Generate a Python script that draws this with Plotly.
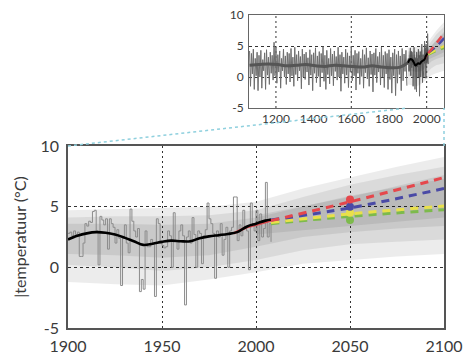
import plotly.graph_objects as go

# ---------------- data ----------------
years = list(range(1900, 2009))
annual_temp = [
    2.8, 2.9, 2.6, 3.0, 2.7, 2.9, 0.9, 0.9, 2.0, 3.6,
    3.4, 3.8, 3.7, 4.6, 4.7, 3.0, 0.2, 4.2, 3.9, 3.5,
    4.0, 1.5, 4.0, 3.6, 3.3, 2.0, 3.1, 2.4, -1.5, 2.4,
    3.5, 2.0, 1.2, 4.8, 3.8, 3.0, 2.5, 3.2, -2.0, -1.0,
    -1.8, 3.0, 1.7, 1.7, 2.3, 1.9, -2.4, 4.0, 3.6, 2.0,
    1.8, 1.6, 1.7, 3.0, 2.6, 0.0, 4.5, 2.2, 1.5, 3.0,
    3.5, 2.6, -3.1, 2.5, 3.0, 2.0, 4.1, 2.7, 0.0, 3.0,
    2.8, 0.3, 2.6, 3.1, 5.3, 4.0, 3.6, 2.8, -0.9, 3.0,
    2.5, 3.6, 1.0, 2.3, 3.3, 0.0, 3.0, 3.3, 5.8, 5.8,
    2.2, 3.5, 2.6, 4.7, 3.2, 3.0, -0.2, 5.3, 3.6, 3.0,
    4.7, 2.2, 4.4, 2.5, 3.2, 7.0, 2.5, 3.6, 2.1,
]

smooth_years = [1900, 1905, 1910, 1915, 1920, 1925, 1930, 1935, 1940, 1945, 1950, 1955,
                1960, 1965, 1970, 1975, 1980, 1985, 1990, 1995, 2000, 2005, 2008]
smooth_temp = [2.3, 2.6, 2.8, 2.9, 2.85, 2.7, 2.45, 2.15, 1.85, 1.95, 2.1, 2.2,
               2.15, 2.15, 2.4, 2.55, 2.65, 2.75, 2.9, 3.35, 3.6, 3.85, 3.95]

red_hist_years = [1988, 1995, 2000, 2008]
red_hist_temp = [2.8, 3.3, 3.5, 3.85]

scen_years = [2008, 2050, 2100]
scen_red = [3.85, 5.4, 7.4]
scen_blue = [3.9, 4.9, 6.5]
scen_yellow = [3.7, 4.4, 5.05]
scen_green = [3.6, 4.2, 4.75]

dot_year = [2050]
dot_red = [5.6]
dot_blue = [5.0]
dot_yellow = [4.5]
dot_green = [3.9]

band_years = [1900, 1925, 1950, 1975, 2000, 2025, 2050, 2075, 2100]
band1_upper = [4.7, 4.8, 4.9, 5.0, 5.4, 6.5, 7.4, 8.3, 9.1]
band1_lower = [-1.2, -1.4, -1.5, -1.0, -0.4, 0.3, 0.6, 0.9, 1.1]
band2_upper = [4.1, 4.2, 4.2, 4.3, 4.7, 5.8, 6.8, 7.6, 8.3]
band2_lower = [0.2, 0.0, -0.3, 0.0, 0.6, 1.4, 1.9, 2.1, 2.3]
band3_upper = [3.6, 3.6, 3.5, 3.6, 4.1, 5.0, 5.9, 6.6, 7.3]
band3_lower = [1.1, 1.0, 0.8, 1.0, 1.7, 2.5, 2.9, 3.2, 3.4]
band4_years = [2000, 2050, 2100]
band4_upper = [4.3, 5.8, 7.6]
band4_lower = [2.7, 3.4, 4.1]

inset_years = list(range(1060, 1900, 5))
inset_temp = [
    4.2, -1.5, 3.8, 0.5, 4.5, -2.0, 3.0, 0.2, 4.0, -2.2, 3.5, 0.0,
    4.3, -1.8, 2.8, 1.0, 3.9, -2.0, 4.4, 0.3, 3.2, -1.2, 4.0, 0.6,
    3.5, -0.5, 5.6, 0.2, 4.8, -1.0, 3.6, 0.8, 4.2, -1.8, 3.0, 1.0,
    4.5, 0.0, 3.4, -1.2, 4.0, 0.5, 3.8, -0.8, 4.6, 0.2, 3.2, -1.5,
    4.8, 0.4, 3.6, -0.6, 4.2, 1.0, 3.3, -1.9, 4.5, 0.0, 3.7, -0.4,
    4.0, 0.8, 3.1, -1.3, 4.4, 0.3, 3.6, -2.2, 3.9, 0.6, 4.7, -0.9,
    3.4, 0.1, 4.1, -1.6, 3.8, 0.7, 4.9, -0.7, 3.5, -2.0, 4.3, 0.4,
    3.0, -1.1, 4.6, 0.2, 3.7, -1.4, 4.2, 0.9, 3.3, -0.5, 4.8, 0.0,
    3.6, -2.3, 4.0, 0.5, 3.2, -1.0, 4.5, 0.3, 3.9, -1.7, 3.4, 0.8,
    4.9, -0.6, 3.5, 0.2, 4.3, -2.1, 3.8, 0.6, 4.1, -1.2, 3.0, 0.1,
    4.4, -1.8, 3.6, 0.7, 4.7, -0.3, 3.1, -1.5, 4.2, 0.4, 3.7, -2.4,
    3.9, 0.3, 4.6, -0.9, 3.3, 0.8, 4.0, -1.3, 4.8, 0.0, 3.5, -1.7,
    4.1, 0.5, 3.8, -2.0, 4.4, -0.4, 3.2, -2.6, 3.9, 0.2, 4.5, -3.0,
    3.6, -1.0, 4.2, 0.4, 3.4, -2.2, 4.6, -0.6, 3.7, 0.9, 4.3, -1.4,
]
inset_smooth_years = [1060, 1110, 1160, 1210, 1260, 1310, 1360, 1410, 1460, 1510,
                      1560, 1610, 1660, 1710, 1760, 1810, 1860, 1900]
inset_smooth_temp = [1.9, 2.0, 2.1, 2.0, 1.8, 1.9, 2.0, 1.8, 1.7, 1.9,
                     1.8, 1.7, 1.6, 1.8, 1.6, 1.5, 1.6, 2.3]

main_xticks = [1900, 1950, 2000, 2050, 2100]
main_yticks = [-5, 0, 5, 10]
main_yticktext = ["-5", "0", "5", "10"]
inset_xticks = [1200, 1400, 1600, 1800, 2000]
inset_yticks = [-5, 0, 5, 10]
inset_yticktext = ["-5", "0", "5", "10"]

# ---------------- layout geometry ----------------
W, H = 469, 361
main_x = [68 / W, 444 / W]
main_y = [1 - 328 / H, 1 - 146 / H]
ins_x = [249 / W, 444 / W]
ins_y = [1 - 108 / H, 1 - 15 / H]
main_range = [1900, 2100]
ins_range = [1057, 2092]

FONT = "Lato"
TXT = "#3a3a3a"
fig = go.Figure()


def add_all(xa, ya, show_hist_steps=True, lw=1.0):
    bands = [
        (band_years, band1_upper, band1_lower),
        (band_years, band2_upper, band2_lower),
        (band_years, band3_upper, band3_lower),
        (band4_years, band4_upper, band4_lower),
    ]
    for by, up, lo in bands:
        fig.add_trace(go.Scatter(
            x=by + by[::-1], y=up + lo[::-1], fill="toself",
            fillcolor="rgba(0,0,0,0.075)", line=dict(width=0),
            mode="lines", hoverinfo="skip", xaxis=xa, yaxis=ya))
    if show_hist_steps:
        fig.add_trace(go.Scatter(
            x=years, y=annual_temp, mode="lines", line_shape="hv",
            line=dict(color="#8c8c8c", width=1.0), xaxis=xa, yaxis=ya))
    fig.add_trace(go.Scatter(
        x=red_hist_years, y=red_hist_temp, mode="lines",
        line=dict(color="#e04a4f", width=2.5 * lw), xaxis=xa, yaxis=ya))
    fig.add_trace(go.Scatter(
        x=smooth_years, y=smooth_temp, mode="lines", line_shape="spline",
        line=dict(color="#000000", width=2.6 * lw), xaxis=xa, yaxis=ya))
    for vals, col in [(scen_green, "#7dba4c"), (scen_yellow, "#e9e04a"),
                      (scen_blue, "#4a4aa6"), (scen_red, "#e5474c")]:
        fig.add_trace(go.Scatter(
            x=scen_years, y=vals, mode="lines", line_shape="spline",
            line=dict(color=col, width=3 * lw, dash="8px,6px"),
            xaxis=xa, yaxis=ya))


add_all("x", "y")
for vals, col in [(dot_green, "#7dba4c"), (dot_yellow, "#e9e04a"),
                  (dot_blue, "#4a4aa6"), (dot_red, "#e5474c")]:
    fig.add_trace(go.Scatter(x=dot_year, y=vals, mode="markers",
                             marker=dict(color=col, size=8), xaxis="x", yaxis="y"))

# inset
fig.add_trace(go.Scatter(x=inset_years, y=inset_temp, mode="lines",
                         line=dict(color="#6e6e6e", width=1), xaxis="x2", yaxis="y2"))
fig.add_trace(go.Scatter(x=inset_smooth_years, y=inset_smooth_temp, mode="lines",
                         line_shape="spline", line=dict(color="#555555", width=3),
                         xaxis="x2", yaxis="y2"))
fig.add_trace(go.Scatter(x=years, y=annual_temp, mode="lines",
                         line=dict(color="#6e6e6e", width=1), xaxis="x2", yaxis="y2"))
add_all("x2", "y2", show_hist_steps=False, lw=0.8)


def ax(**kw):
    base = dict(showline=True, mirror=True, zeroline=False, automargin=False,
                ticks="outside", tickcolor="rgba(0,0,0,0)", fixedrange=True)
    base.update(kw)
    return base


fig.update_layout(
    width=W, height=H, margin=dict(l=0, r=0, t=0, b=0, autoexpand=False),
    paper_bgcolor="white", plot_bgcolor="white", showlegend=False,
    xaxis=ax(domain=main_x, range=main_range, tickvals=main_xticks,
             showgrid=True, gridcolor="#333333", griddash="2px,3px", gridwidth=1,
             linecolor="#555555", linewidth=1.5, anchor="y", ticklen=3,
             tickfont=dict(family=FONT, color=TXT, size=16)),
    yaxis=ax(domain=main_y, range=[-5, 10], tickvals=main_yticks, ticktext=main_yticktext,
             showgrid=True, gridcolor="#333333", griddash="3px,3px", gridwidth=1,
             linecolor="#555555", linewidth=1.5, anchor="x", ticklen=4,
             title=dict(text="|temperatuur (°C)", font=dict(family=FONT, size=16, color=TXT),
                        standoff=10),
             tickfont=dict(family=FONT, color=TXT, size=16)),
    xaxis2=ax(domain=ins_x, range=ins_range, tickvals=inset_xticks,
              showgrid=False, linecolor="#666666", linewidth=1, anchor="y2", ticklen=0,
              tickfont=dict(family=FONT, color=TXT, size=12)),
    yaxis2=ax(domain=ins_y, range=[-5, 10], tickvals=inset_yticks, ticktext=inset_yticktext,
              showgrid=True, gridcolor="#333333", griddash="3px,3px", gridwidth=1,
              linecolor="#666666", linewidth=1, anchor="x2", ticklen=2,
              tickfont=dict(family=FONT, color=TXT, size=12)),
)

# inset vertical dotted gridlines (only at 1200, 1600, 2000)
for gx in [1200, 1600, 2000]:
    fig.add_shape(type="line", xref="x2", yref="y2", x0=gx, x1=gx, y0=-5, y1=10,
                  line=dict(color="#333333", width=1, dash="2px,3px"), layer="below")


# zoom connector lines
def ins_px(xv):
    return ins_x[0] + (xv - ins_range[0]) / (ins_range[1] - ins_range[0]) * (ins_x[1] - ins_x[0])


fig.add_shape(type="line", xref="paper", yref="paper",
              x0=main_x[0], y0=main_y[1], x1=ins_px(1900), y1=ins_y[0],
              line=dict(color="#8fd0de", width=1.5, dash="dot"))
fig.add_shape(type="line", xref="paper", yref="paper",
              x0=main_x[1], y0=main_y[1], x1=main_x[1], y1=ins_y[0],
              line=dict(color="#8fd0de", width=1.5, dash="dot"))

fig.write_html("out.html", config={"displayModeBar": False},
               post_script="document.body.style.margin='0';")
